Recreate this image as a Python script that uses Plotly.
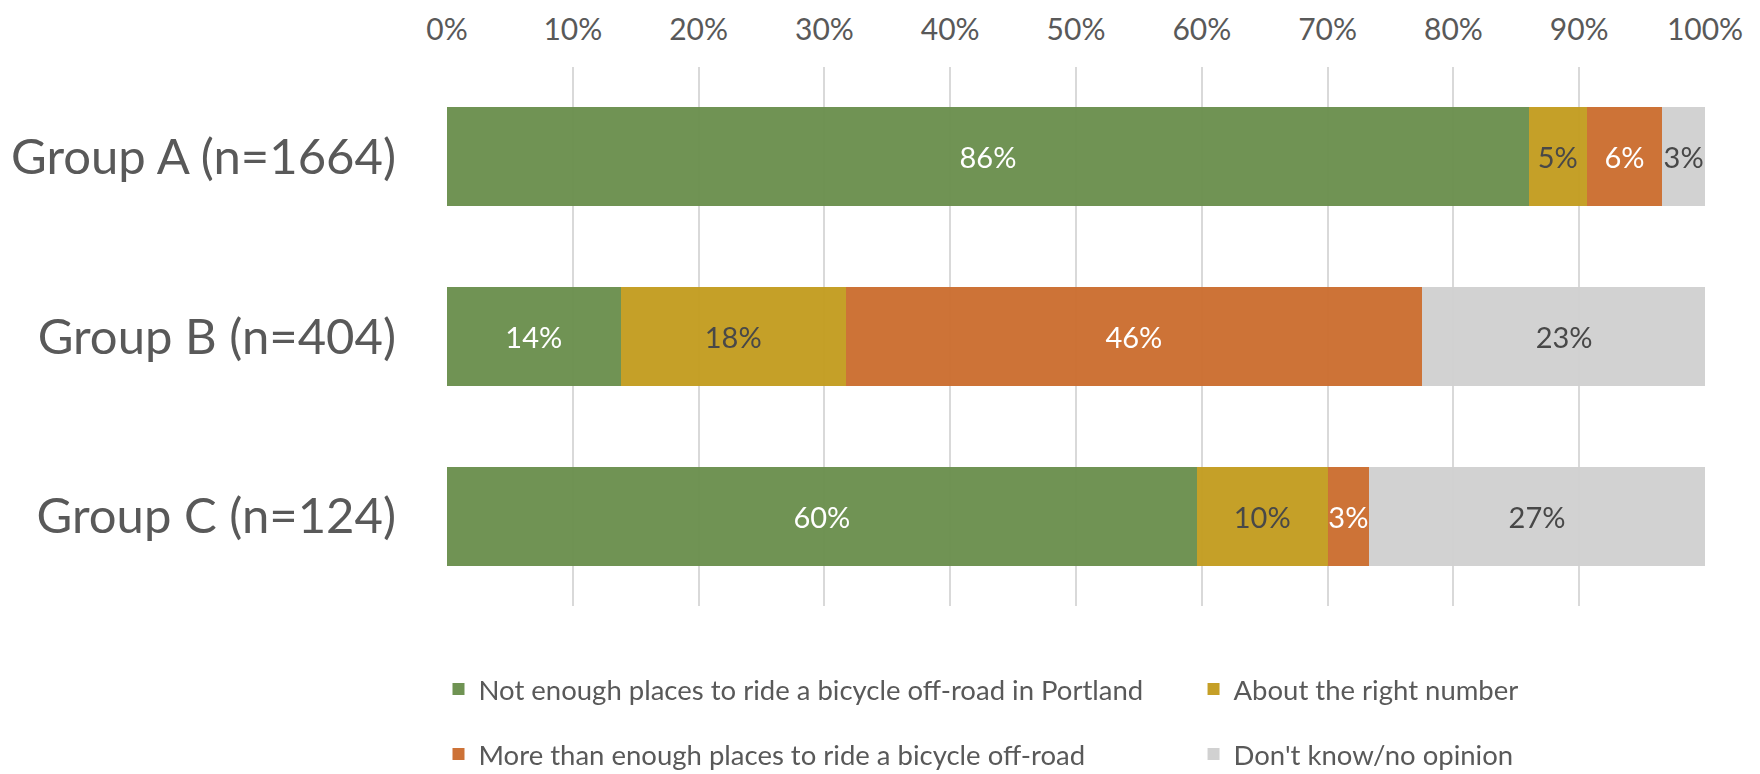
import plotly.graph_objects as go

groups = ["Group A (n=1664)", "Group B (n=404)", "Group C (n=124)"]

series_names = [
    "Not enough places to ride a bicycle off-road in Portland",
    "About the right number",
    "More than enough places to ride a bicycle off-road",
    "Don't know/no opinion",
]
not_enough = [86.0, 13.8, 59.6]
about_right = [4.6, 17.9, 10.4]
more_than_enough = [6.0, 45.8, 3.3]
dont_know = [3.4, 22.6, 26.7]

tick_vals = [0, 10, 20, 30, 40, 50, 60, 70, 80, 90, 100]
tick_text = [f"{t}%" for t in tick_vals]

# slightly deeper than the target shades, bars are drawn a touch transparent
colors = ["#6A8F4D", "#C39C1F", "#CB6D2F", "#D0D0D0"]
label_colors = ["#FFFFFF", "#404040", "#FFFFFF", "#404040"]
legend_ids = ["legend", "legend2", "legend3", "legend4"]
# legend spots (container fractions): two columns, two rows
legend_xy = [(0.2446, 0.120), (0.6736, 0.120), (0.2446, 0.036), (0.6736, 0.036)]

FONT = "Lato"

fig = go.Figure()
for name, vals, col, lcol, leg in zip(
    series_names,
    [not_enough, about_right, more_than_enough, dont_know],
    colors, label_colors, legend_ids,
):
    fig.add_trace(go.Bar(
        y=groups, x=vals, name=name, orientation="h",
        marker=dict(color=col, line=dict(width=0)),
        opacity=0.96,
        text=[f"{v:.0f}%" for v in vals],
        textposition="inside", insidetextanchor="middle",
        textangle=0, constraintext="none",
        textfont=dict(color=lcol, size=29, family=FONT),
        legend=leg,
        hoverinfo="skip",
    ))

legend_layout = {}
for leg, (lx, ly) in zip(legend_ids, legend_xy):
    legend_layout[leg] = dict(
        x=lx, y=ly, xref="container", yref="container",
        xanchor="left", yanchor="middle", orientation="h",
        font=dict(size=27.5, color="#595959", family=FONT),
        bgcolor="rgba(0,0,0,0)",
    )

fig.update_layout(
    width=1760, height=774,
    barmode="stack", bargap=0.45,
    paper_bgcolor="white", plot_bgcolor="white",
    margin=dict(l=439, r=63, t=59, b=176),
    font=dict(family=FONT, color="#595959"),
    showlegend=True,
    xaxis=dict(
        side="top", range=[0, 100], automargin=False,
        tickvals=tick_vals, ticktext=tick_text,
        showgrid=True, gridcolor="#D9D9D9", gridwidth=1.5,
        zeroline=False, showline=False, ticks="",
        tickfont=dict(size=30, color="#595959", family=FONT),
        ticklabelstandoff=20,
    ),
    yaxis=dict(
        range=[2.5, -0.5], automargin=False,
        showgrid=False, zeroline=False, showline=False, ticks="",
        tickfont=dict(size=49, color="#595959", family=FONT),
        ticklabelstandoff=50,
    ),
    **legend_layout,
)

fig.write_html("out.html")
